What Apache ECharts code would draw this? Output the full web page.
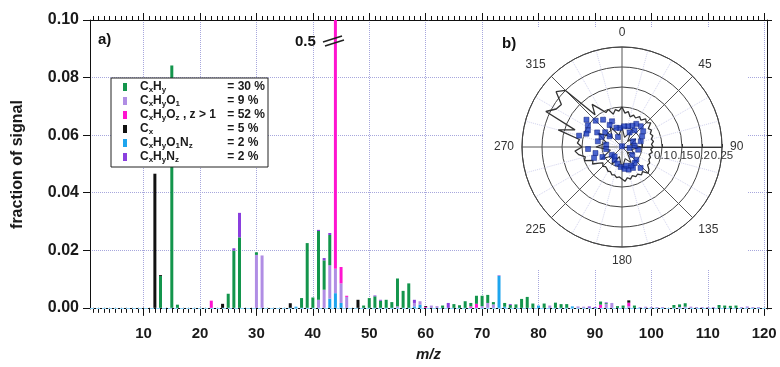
<!DOCTYPE html>
<html>
<head>
<meta charset="utf-8">
<script src="https://cdn.jsdelivr.net/npm/echarts@6/dist/echarts.min.js"></script>
<style>
html, body { margin: 0; padding: 0; background: #fff; }
#chart { width: 780px; height: 367px; }
</style>
</head>
<body>
<div id="chart"></div>
<script>
// ---- mass spectrum: fraction of signal per m/z, split by ion family ----
const mzFirst = 1;
const mzLast = 120;

// [m/z, fraction] pairs for each ion family
const cxhy = [[13,0.0111],[15,0.0842],[16,0.0011],[25,0.0049],[26,0.0199],[27,0.0245],[30,0.0009],
  [38,0.0034],[39,0.0225],[40,0.0036],[41,0.0239],[42,0.0102],[43,0.0105],[49,0.0008],[50,0.0034],
  [51,0.0040],[52,0.0025],[53,0.0028],[54,0.0020],[55,0.0097],[56,0.0059],[57,0.0085],[63,0.0008],
  [65,0.0013],[66,0.0009],[67,0.0023],[68,0.0012],[69,0.0028],[70,0.0036],[71,0.0028],[72,0.0008],
  [74,0.0013],[75,0.0010],[76,0.0012],[77,0.0031],[78,0.0038],[79,0.0015],[81,0.0015],[83,0.0018],
  [84,0.0013],[85,0.0013],[91,0.0011],[92,0.0003],[94,0.0006],[95,0.0008],[97,0.0008],[104,0.0010],
  [105,0.0009],[106,0.0012],[112,0.0010],[113,0.0008],[114,0.0007],[115,0.0008]];
const cxhyo1 = [[30,0.0184],[31,0.0182],[41,0.0028],[42,0.0063],[43,0.0116],[44,0.0085],[45,0.0068],
  [46,0.0038],[55,0.0005],[58,0.0012],[59,0.0012],[61,0.0008],[62,0.0006],[70,0.0006],[71,0.0017],
  [72,0.0012],[73,0.0003],[82,0.0008],[87,0.0005],[88,0.0004],[92,0.0014],[93,0.0017],[96,0.0006],
  [98,0.0003],[99,0.0004],[100,0.0003],[101,0.0003],[102,0.0003],[105,0.0003],[106,0.0004],[107,0.0004],
  [108,0.0003],[109,0.0003],[110,0.0003],[111,0.0003],[116,0.0003],[117,0.0005],[118,0.0003],[119,0.0003]];
const cxhyoz = [[22,0.0025],[44,0.4864],[45,0.0057],[46,0.0004],[60,0.0003],[68,0.0005],[69,0.0014],
  [91,0.0011],[96,0.0012]];
const cx = [[12,0.0466],[13,0.0003],[24,0.0014],[36,0.0016],[48,0.0028],[60,0.0003],[96,0.0008]];
const cxhyo1nz = [[37,0.0004],[43,0.0032],[44,0.0051],[45,0.0017],[58,0.0005],[59,0.0011],[73,0.0111],
  [74,0.0004],[80,0.0008],[86,0.0005]];
const cxhynz = [[26,0.0008],[27,0.0085],[41,0.0004],[42,0.0008],[43,0.0007],[51,0.0003],[52,0.0003],
  [58,0.0011],[64,0.0017],[75,0.0003],[89,0.0005],[90,0.0003],[92,0.0002]];

// legend shares (% of total signal)
const shareCxHy = 30, shareCxHyO1 = 9, shareCxHyOz = 52, shareCx = 5, shareCxHyO1Nz = 2, shareCxHyNz = 2;

// axis tick labels
const xTickLabels = [10, 20, 30, 40, 50, 60, 70, 80, 90, 100, 110, 120];
const yTickLabels = [0, 0.02, 0.04, 0.06, 0.08, 0.10];

// ---- wind-direction inset (polar) ----
const outerAngles = [0,5,10,15,20,25,30,35,40,45,50,55,60,65,70,75,80,85,90,95,100,105,110,115,120,125,130,135,
  140,145,150,155,160,165,170,175,180,185,190,195,200,205,210,215,220,225,230,235,240,245,250,255,260,265,
  270,275,280,285,290,295,300,305,310,315,320,325,330,335,340,345,350,355];
const outerRadii = [0.100,0.085,0.090,0.078,0.085,0.080,0.088,0.082,0.092,0.086,0.094,0.080,0.085,0.078,0.082,0.076,
  0.080,0.074,0.078,0.072,0.077,0.070,0.076,0.074,0.080,0.078,0.088,0.092,0.080,0.085,0.078,0.082,0.076,0.083,
  0.078,0.086,0.080,0.075,0.078,0.072,0.074,0.068,0.070,0.066,0.064,0.068,0.062,0.070,0.085,0.080,0.100,0.095,
  0.110,0.118,0.100,0.112,0.108,0.165,0.125,0.210,0.190,0.185,0.215,0.200,0.105,0.130,0.110,0.095,0.100,0.085,
  0.095,0.090];
const innerAngles = [0,15,30,45,60,75,90,105,120,135,150,165,180,195,210,225,240,255,270,285,300,315,330,345];
const innerRadii = [0.050,0.025,0.045,0.020,0.040,0.022,0.050,0.025,0.035,0.018,0.045,0.030,0.055,0.025,0.050,
  0.030,0.060,0.030,0.065,0.040,0.070,0.035,0.060,0.030];
const pointAngles = [307.5,315,325.2,338.7,302.5,330.7,296.1,290.5,284.8,300.4,311.3,283.3,278.5,266.6,257.2,248.6,
  243,232.5,210,195.6,183.8,173.1,163.6,152.4,138.4,131.5,127.5,99.5,84,73.1,61.9,53.3,42.1,31.6,25.8,16.2,5.5,
  353,343.4,37.2,27.6,0,338,62.7,97,141.6,153.4,167,310.9,295.8,218,262.7];
const pointRadii = [0.112,0.093,0.083,0.069,0.101,0.063,0.095,0.095,0.111,0.072,0.056,0.062,0.040,0.085,0.068,0.075,
  0.055,0.032,0.037,0.043,0.050,0.055,0.059,0.059,0.070,0.048,0.032,0.041,0.032,0.049,0.057,0.066,0.070,0.068,
  0.059,0.054,0.052,0.048,0.050,0.052,0.041,0.002,0.027,0.031,0.019,0.051,0.052,0.048,0.041,0.057,0.030,0.040];

const FONT = '"Liberation Sans", Arial, sans-serif';

// full m/z grid so that stacking lines up category by category
const mzGrid = [];
for (let m = mzFirst; m <= mzLast; m++) mzGrid.push(m);
function onGrid(pairs) {
  const lookup = new Map(pairs);
  return mzGrid.map(m => (lookup.has(m) ? lookup.get(m) : 0));
}
// angle axis runs 90..450 so the radius scale lies along the 90° spoke
function toPolar(angles, radii, close) {
  const pts = angles.map((a, i) => [radii[i], a < 90 ? a + 360 : a]);
  if (close) pts.push(pts[0].slice());
  return pts;
}

const colors = {
  CxHy: '#13954c', CxHyO1: '#b08de4', CxHyOz: '#ff14d0',
  Cx: '#111111', CxHyO1Nz: '#1ea5ee', CxHyNz: '#8a3fde'
};
const shares = {
  CxHy: shareCxHy, CxHyO1: shareCxHyO1, CxHyOz: shareCxHyOz,
  Cx: shareCx, CxHyO1Nz: shareCxHyO1Nz, CxHyNz: shareCxHyNz
};
const formulas = {
  CxHy: '{m|C}{s|x}{m|H}{s|y}',
  CxHyO1: '{m|C}{s|x}{m|H}{s|y}{m|O}{s|1}',
  CxHyOz: '{m|C}{s|x}{m|H}{s|y}{m|O}{s|z}{m| , z > 1}',
  Cx: '{m|C}{s|x}',
  CxHyO1Nz: '{m|C}{s|x}{m|H}{s|y}{m|O}{s|1}{m|N}{s|z}',
  CxHyNz: '{m|C}{s|x}{m|H}{s|y}{m|N}{s|z}'
};

// bottom-to-top stacking order
const stackOrder = [
  ['CxHyO1Nz', cxhyo1nz], ['CxHyO1', cxhyo1], ['CxHyOz', cxhyoz],
  ['CxHy', cxhy], ['CxHyNz', cxhynz], ['Cx', cx]
];
const barSeries = stackOrder.map(([name, pairs], i) => {
  const s = {
    name, type: 'bar', stack: 'spectrum', barWidth: 3,
    xAxisIndex: 4, yAxisIndex: 0,
    itemStyle: { color: colors[name] },
    data: onGrid(pairs), z: 2
  };
  if (i === 0) {
    s.markLine = {
      silent: true, symbol: 'none', label: { show: false },
      lineStyle: { color: '#8ccff4', type: 'dashed', width: 1 },
      data: [{ yAxis: 0 }]
    };
  }
  return s;
});

const minorTicks = mzGrid.slice();
const dotted = { color: '#a7a7dd', type: 'dotted', width: 1 };
const xBase = { type: 'value', min: 0.5, max: 120.5, gridIndex: 0 };

const option = {
  animation: false,
  backgroundColor: '#fff',
  grid: { left: 90, right: 13, top: 20, bottom: 54, containLabel: false },
  xAxis: [
    Object.assign({}, xBase, {
      position: 'bottom',
      axisLine: { show: true, lineStyle: { color: '#111', width: 1 } },
      axisTick: { show: true, inside: false, length: 5, customValues: minorTicks, lineStyle: { color: '#111' } },
      axisLabel: { show: false }, splitLine: { show: false }
    }),
    Object.assign({}, xBase, {
      position: 'bottom',
      axisLine: { show: false },
      axisTick: { show: true, length: 8, customValues: xTickLabels, lineStyle: { color: '#111' } },
      axisLabel: { show: true, customValues: xTickLabels, margin: 17, color: '#1a1a1a',
        fontSize: 15, fontWeight: 'bold', fontFamily: FONT },
      splitLine: { show: true, lineStyle: dotted },
      name: 'm/z', nameLocation: 'middle', nameGap: 38,
      nameTextStyle: { fontSize: 15, fontWeight: 'bold', fontStyle: 'italic', color: '#1a1a1a', fontFamily: FONT }
    }),
    Object.assign({}, xBase, {
      position: 'top',
      axisLine: { show: true, lineStyle: { color: '#111', width: 1 } },
      axisTick: { show: true, length: 4, customValues: minorTicks, lineStyle: { color: '#111' } },
      axisLabel: { show: false }, splitLine: { show: false }
    }),
    Object.assign({}, xBase, {
      position: 'top',
      axisLine: { show: false },
      axisTick: { show: true, length: 7, customValues: xTickLabels, lineStyle: { color: '#111' } },
      axisLabel: { show: false }, splitLine: { show: false }
    }),
    {
      // category scale that places the stacked bars, one band per m/z
      type: 'category', data: mzGrid, boundaryGap: true, position: 'bottom', gridIndex: 0,
      show: false
    }
  ],
  yAxis: [
    {
      type: 'value', min: -0.0004, max: 0.1, position: 'left',
      axisLine: { show: true, lineStyle: { color: '#111', width: 1 } },
      axisTick: { show: true, length: 7, customValues: yTickLabels, lineStyle: { color: '#111' } },
      axisLabel: { customValues: yTickLabels, margin: 11, color: '#1a1a1a', fontSize: 16, fontWeight: 'bold',
        fontFamily: FONT, formatter: v => v.toFixed(2) },
      splitLine: { show: true, lineStyle: dotted },
      name: 'fraction of signal', nameLocation: 'middle', nameGap: 64, nameRotate: 90,
      nameTextStyle: { fontSize: 16, fontWeight: 'bold', color: '#1a1a1a', fontFamily: FONT }
    },
    {
      type: 'value', min: -0.0004, max: 0.1, position: 'right',
      axisLine: { show: true, lineStyle: { color: '#111', width: 1 } },
      axisTick: { show: true, length: 5, customValues: yTickLabels, lineStyle: { color: '#111' } },
      axisLabel: { show: false }, splitLine: { show: false }
    }
  ],
  legend: {
    show: true, orient: 'vertical', left: 111, top: 78,
    data: ['CxHy', 'CxHyO1', 'CxHyOz', 'Cx', 'CxHyO1Nz', 'CxHyNz'],
    icon: 'rect', itemWidth: 4, itemHeight: 8, itemGap: 1,
    padding: [3, 3, 3, 12],
    backgroundColor: '#fff', borderColor: '#222', borderWidth: 1,
    selectedMode: false,
    formatter: name => {
      const v = shares[name];
      const pct = '= ' + v + ' %' + (v < 10 ? '  ' : '');
      return '{g|}' + formulas[name] + '{p|' + pct + '}';
    },
    textStyle: {
      width: 133, color: '#1a1a1a', fontFamily: FONT, fontWeight: 'bold', fontSize: 12,
      rich: {
        g: { width: 8, lineHeight: 14 },
        m: { fontSize: 12, fontWeight: 'bold', lineHeight: 14, fontFamily: FONT, color: '#1a1a1a' },
        s: { fontSize: 8, fontWeight: 'bold', lineHeight: 8, verticalAlign: 'bottom', fontFamily: FONT, color: '#1a1a1a' },
        p: { align: 'right', fontSize: 12, fontWeight: 'bold', lineHeight: 14, fontFamily: FONT, color: '#1a1a1a' }
      }
    }
  },
  polar: { center: [622, 147], radius: 100 },
  angleAxis: {
    type: 'value', min: 90, max: 450, interval: 45, startAngle: 0, clockwise: true, z: 3,
    axisLine: { show: true, lineStyle: { color: '#444', width: 1 } },
    axisTick: { show: false },
    axisLabel: { margin: 8, color: '#333', fontSize: 12, fontFamily: FONT, formatter: v => String(v % 360) },
    splitLine: { show: true, lineStyle: { color: '#555', width: 1 } },
    minorTick: { show: false, splitNumber: 3 },
    minorSplitLine: { show: true, lineStyle: { color: '#d2d3ee', type: 'dotted', width: 1 } }
  },
  radiusAxis: {
    type: 'value', min: 0, max: 0.25, interval: 0.05, z: 3,
    axisLine: { show: true, lineStyle: { color: '#333', width: 1 } },
    axisTick: { show: true, length: 3, lineStyle: { color: '#333' } },
    axisLabel: { margin: -3, color: '#333', fontSize: 11.5, fontFamily: FONT, align: 'center', verticalAlign: 'top',
      showMaxLabel: true, hideOverlap: false,
      formatter: v => (v >= 0.1 ? String(+v.toFixed(2)) : '') },
    splitLine: { show: true, lineStyle: { color: '#444', width: 1 } }
  },
  series: barSeries.concat([
    {
      type: 'line', coordinateSystem: 'polar', polarIndex: 0, symbol: 'none', silent: true, z: 4,
      lineStyle: { color: '#333', width: 1.3 }, data: toPolar(outerAngles, outerRadii, true)
    },
    {
      type: 'line', coordinateSystem: 'polar', polarIndex: 0, symbol: 'none', silent: true, z: 4,
      lineStyle: { color: '#333', width: 1.1 }, data: toPolar(innerAngles, innerRadii, true)
    },
    {
      type: 'scatter', coordinateSystem: 'polar', polarIndex: 0, symbol: 'rect', symbolSize: 5, z: 5,
      itemStyle: { color: '#1e3fc2', borderColor: '#0b1c78', borderWidth: 0.6 },
      data: toPolar(pointAngles, pointRadii, false)
    }
  ]),
  graphic: [
    { type: 'rect', z: 1, silent: true, shape: { x: 483, y: 27, width: 265, height: 243 }, style: { fill: '#fff' } },
    { type: 'text', z: 10, x: 98, y: 40, style: { text: 'a)', fontSize: 15, fontWeight: 'bold', fontFamily: FONT, fill: '#111', verticalAlign: 'middle' } },
    { type: 'text', z: 10, x: 502, y: 44, style: { text: 'b)', fontSize: 15, fontWeight: 'bold', fontFamily: FONT, fill: '#111', verticalAlign: 'middle' } },
    { type: 'text', z: 10, x: 295, y: 42, style: { text: '0.5', fontSize: 15, fontWeight: 'bold', fontFamily: FONT, fill: '#111', verticalAlign: 'middle' } },
    { type: 'line', z: 10, shape: { x1: 323, y1: 42, x2: 342, y2: 36 }, style: { stroke: '#222', lineWidth: 1.5 } },
    { type: 'line', z: 10, shape: { x1: 325, y1: 46, x2: 344, y2: 40 }, style: { stroke: '#222', lineWidth: 1.5 } }
  ]
};

const chart = echarts.init(document.getElementById('chart'));
chart.setOption(option);
</script>
</body>
</html>
